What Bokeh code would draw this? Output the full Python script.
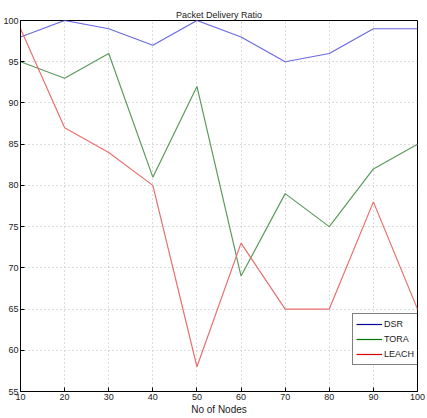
from bokeh.plotting import figure
from bokeh.models import Legend, LegendItem, FixedTicker, Range1d
from bokeh.embed import file_html
from bokeh.resources import INLINE

nodes = [10, 20, 30, 40, 50, 60, 70, 80, 90, 100]
dsr = [98, 100, 99, 97, 100, 98, 95, 96, 99, 99]
tora = [95, 93, 96, 81, 92, 69, 79, 75, 82, 85]
leach = [99, 87, 84, 80, 58, 73, 65, 65, 78, 65]
x_ticks = [10, 20, 30, 40, 50, 60, 70, 80, 90, 100]
y_ticks = [55, 60, 65, 70, 75, 80, 85, 90, 95, 100]

FONT = "Liberation Sans"

p = figure(width=427, height=418, output_backend="svg", toolbar_location=None,
           x_range=Range1d(10, 100), y_range=Range1d(55, 100),
           min_border_left=17, min_border_right=10, min_border_top=20, min_border_bottom=27)
p.title.text = "Packet Delivery Ratio"
p.title.align = "center"
p.title.text_font = FONT
p.title.text_font_size = "9px"
p.title.text_font_style = "normal"
p.title.text_color = "#222222"
p.title.standoff = 2

p.outline_line_color = "black"
p.outline_line_width = 1
p.background_fill_color = "white"
p.border_fill_color = "white"

for ax in (p.xaxis[0], p.yaxis[0]):
    ax.major_tick_in = 4
    ax.major_tick_out = 0
    ax.minor_tick_in = 0
    ax.minor_tick_out = 0
    ax.axis_line_color = "black"
    ax.major_tick_line_color = "black"
    ax.major_label_text_font = FONT
    ax.major_label_text_font_size = "9px"
    ax.major_label_text_color = "#222222"
    ax.major_label_standoff = 2

p.xaxis.ticker = FixedTicker(ticks=x_ticks)
p.yaxis.ticker = FixedTicker(ticks=y_ticks)
p.xaxis.axis_label = "No of Nodes"
p.xaxis.axis_label_text_font = FONT
p.xaxis.axis_label_text_font_size = "10px"
p.xaxis.axis_label_text_font_style = "normal"
p.xaxis.axis_label_text_color = "#222222"
p.xaxis.axis_label_standoff = 1

p.xgrid.ticker = FixedTicker(ticks=x_ticks)
p.ygrid.ticker = FixedTicker(ticks=y_ticks)
p.grid.grid_line_color = "#bbbbbb"
p.grid.grid_line_dash = "1 3"
p.grid.grid_line_width = 1

r1 = p.line(nodes, dsr, line_color="#6a6ae0", line_width=1.2)
r2 = p.line(nodes, tora, line_color="#5c9a5c", line_width=1.2)
r3 = p.line(nodes, leach, line_color="#ea6f6f", line_width=1.2)

# legend swatches with darker colours
l1 = p.line([None], [None], line_color="#000099", line_width=1.2)
l2 = p.line([None], [None], line_color="#007700", line_width=1.2)
l3 = p.line([None], [None], line_color="#dd0000", line_width=1.2)

legend = Legend(items=[LegendItem(label="DSR", renderers=[l1]),
                       LegendItem(label="TORA", renderers=[l2]),
                       LegendItem(label="LEACH", renderers=[l3])],
                location=(332, 26))
legend.label_text_font = FONT
legend.label_text_font_size = "9px"
legend.label_text_color = "#222222"
legend.glyph_width = 26
legend.glyph_height = 14
legend.label_height = 14
legend.spacing = 1
legend.padding = 3
legend.margin = 0
legend.label_standoff = 2
legend.border_line_color = "black"
legend.border_line_width = 1
legend.background_fill_alpha = 1
p.add_layout(legend, "center")

open("out.html", "w").write(file_html(p, INLINE))
